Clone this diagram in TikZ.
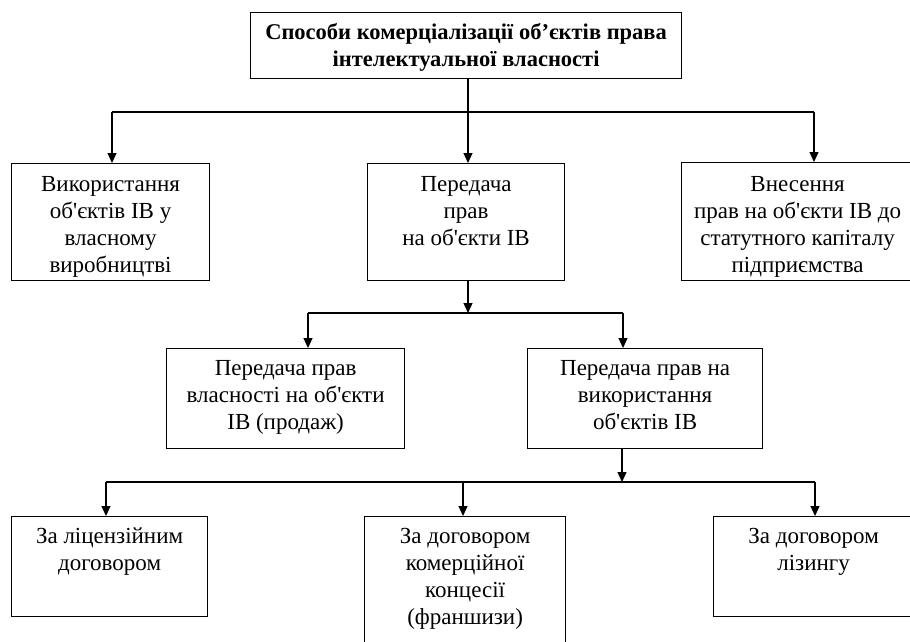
\documentclass[tikz,border=0pt]{standalone}
\usepackage{fontspec}
\setmainfont{Liberation Serif}[Ligatures=TeXOff]
\usetikzlibrary{arrows.meta}
\begin{document}
\begin{tikzpicture}[x=1pt,y=-1pt,
  box/.style={draw, line width=1.2pt, inner sep=0pt, rectangle},
  txt/.style={inner sep=0pt, align=center, font=\fontsize{23}{27}\selectfont},
  ttl/.style={inner sep=0pt, align=center, font=\fontsize{22.5}{27}\selectfont\bfseries},
  arr/.style={line width=1.2pt, -{Triangle[width=9pt,length=10pt]}},
  ln/.style={line width=1.2pt}]
\useasboundingbox (0,0) rectangle (910,642);
\clip (0,0) rectangle (910,642);

% title
\node[box, minimum width=431pt, minimum height=66pt, anchor=north west] (top) at (250,12) {};
\node[ttl, anchor=north] at ([yshift=-11pt]top.north) {Способи комерціалізації об’єктів права\\інтелектуальної власності};

% first level
\node[box, minimum width=198pt, minimum height=117pt, anchor=north west] (own) at (11,163) {};
\node[box, minimum width=197pt, minimum height=117pt, anchor=north west] (trans) at (367,163) {};
\node[box, minimum width=232pt, minimum height=118pt, anchor=north west] (cap) at (681,162) {};
\node[txt, anchor=north] at ([yshift=-13pt]own.north) {Використання\\об'єктів ІВ у\\власному\\виробництві};
\node[txt, anchor=north] at ([yshift=-13pt]trans.north) {Передача\\прав\\на об'єкти ІВ};
\node[txt, anchor=north] at ([yshift=-14pt]cap.north) {Внесення\\прав на об'єкти ІВ до\\статутного капіталу\\підприємства};

% second level
\node[box, minimum width=238pt, minimum height=100pt, anchor=north west] (sale) at (166,348) {};
\node[box, minimum width=235pt, minimum height=100pt, anchor=north west] (use) at (527,348) {};
\node[txt, anchor=north] at ([yshift=-12pt]sale.north) {Передача прав\\власності на об'єкти\\ІВ (продаж)};
\node[txt, anchor=north] at ([yshift=-12pt]use.north) {Передача прав на\\використання\\об'єктів ІВ};

% third level
\node[box, minimum width=196pt, minimum height=100pt, anchor=north west] (lic) at (11,516) {};
\node[box, minimum width=201pt, minimum height=150pt, anchor=north west] (fr) at (364,516) {};
\node[box, minimum width=200pt, minimum height=100pt, anchor=north west] (lea) at (713,516) {};
\node[txt, anchor=north] at ([yshift=-12pt]lic.north) {За ліцензійним\\договором};
\node[txt, anchor=north] at ([yshift=-12pt]fr.north) {За договором\\комерційної\\концесії\\(франшизи)};
\node[txt, anchor=north] at ([yshift=-12pt]lea.north) {За договором\\лізингу};

% connectors, first level
\coordinate (h1l) at (112,112);
\coordinate (h1r) at (814,112);
\draw[arr] (468,78) -- (468,163);
\draw[ln] (h1l) -- (h1r);
\draw[arr] (h1l) -- (h1l |- own.north);
\draw[arr] (h1r) -- (h1r |- cap.north);

% connectors, second level
\coordinate (j2) at (468,313);
\coordinate (h2l) at (308,313);
\coordinate (h2r) at (623,313);
\draw[arr] (j2 |- trans.south) -- (j2);
\draw[ln] (h2l) -- (h2r);
\draw[arr] (h2l) -- (h2l |- sale.north);
\draw[arr] (h2r) -- (h2r |- use.north);

% connectors, third level
\coordinate (j3) at (622,482);
\coordinate (h3l) at (106,482);
\coordinate (h3m) at (463,482);
\coordinate (h3r) at (815,482);
\draw[arr] (j3 |- use.south) -- (j3);
\draw[ln] (h3l) -- (h3r);
\draw[arr] (h3l) -- (h3l |- lic.north);
\draw[arr] (h3m) -- (h3m |- fr.north);
\draw[arr] (h3r) -- (h3r |- lea.north);
\end{tikzpicture}
\end{document}
